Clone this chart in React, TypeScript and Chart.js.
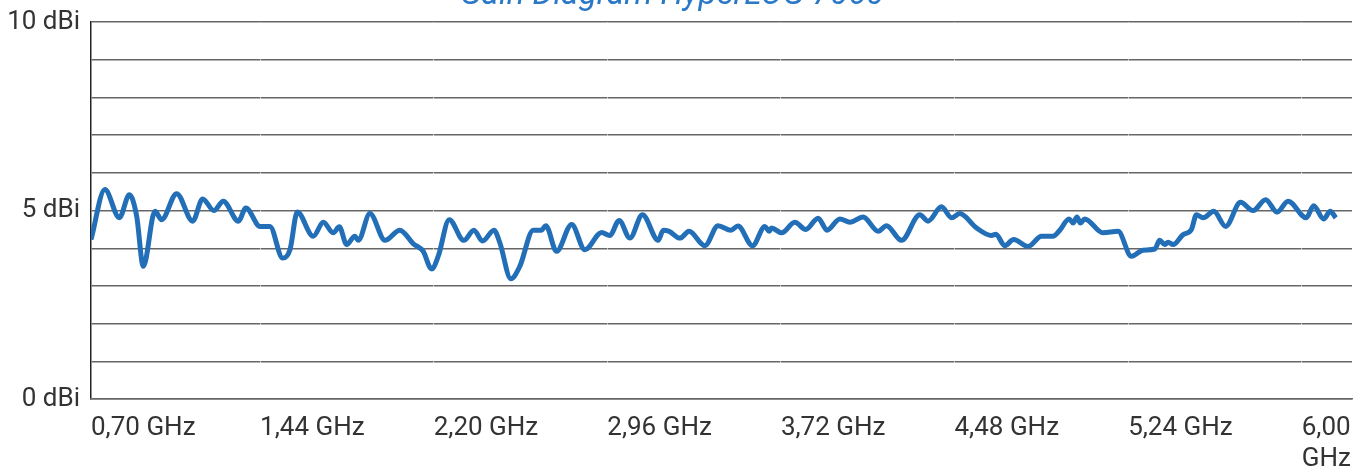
import React, { useEffect, useRef } from "react";
import { Chart, registerables } from "chart.js";

Chart.register(...registerables);

const TITLE = "Gain Diagram HyperLOG 7060";

const FREQ_GHZ = [
  0.700, 0.761, 0.824, 0.868, 0.900, 0.929, 0.980, 1.009, 1.075, 1.145,
  1.189, 1.238, 1.279, 1.345, 1.378, 1.440, 1.483, 1.539, 1.571, 1.603,
  1.673, 1.717, 1.760, 1.787, 1.819, 1.855, 1.870, 1.921, 1.987, 2.052,
  2.111, 2.154, 2.191, 2.220, 2.268, 2.332, 2.376, 2.414, 2.464, 2.490,
  2.538, 2.577, 2.636, 2.672, 2.691, 2.738, 2.804, 2.862, 2.935, 2.971,
  3.012, 3.059, 3.114, 3.183, 3.205, 3.231, 3.278, 3.318, 3.387, 3.445,
  3.501, 3.532, 3.596, 3.650, 3.669, 3.679, 3.723, 3.781, 3.829, 3.883,
  3.922, 3.978, 4.022, 4.080, 4.146, 4.182, 4.248, 4.328, 4.364, 4.423,
  4.467, 4.503, 4.576, 4.642, 4.661, 4.700, 4.739, 4.802, 4.861, 4.911,
  4.941, 4.981, 4.999, 5.016, 5.031, 5.050, 5.130, 5.196, 5.254, 5.305,
  5.357, 5.378, 5.400, 5.415, 5.437, 5.480, 5.517, 5.539, 5.568, 5.615,
  5.667, 5.732, 5.787, 5.842, 5.892, 5.940, 6.020, 6.052, 6.096, 6.125,
  6.149,
];

const GAIN_DBI = [
  4.23, 5.56, 4.81, 5.42, 4.85, 3.52, 4.98, 4.76, 5.45, 4.72,
  5.31, 5.00, 5.25, 4.72, 5.07, 4.58, 4.58, 3.74, 3.96, 4.96,
  4.32, 4.69, 4.41, 4.57, 4.10, 4.32, 4.21, 4.92, 4.21, 4.48,
  4.12, 3.92, 3.45, 3.79, 4.76, 4.21, 4.48, 4.19, 4.48, 4.14,
  3.19, 3.52, 4.48, 4.48, 4.60, 3.92, 4.63, 3.96, 4.42, 4.34,
  4.74, 4.27, 4.89, 4.21, 4.48, 4.45, 4.27, 4.45, 4.07, 4.60,
  4.48, 4.59, 4.07, 4.58, 4.45, 4.54, 4.41, 4.69, 4.50, 4.80,
  4.48, 4.78, 4.69, 4.83, 4.45, 4.60, 4.21, 4.89, 4.72, 5.10,
  4.81, 4.92, 4.54, 4.34, 4.37, 4.07, 4.23, 4.05, 4.32, 4.32,
  4.48, 4.78, 4.67, 4.83, 4.67, 4.78, 4.41, 4.45, 3.79, 3.95,
  3.98, 4.21, 4.10, 4.16, 4.10, 4.36, 4.50, 4.89, 4.81, 4.98,
  4.58, 5.22, 5.00, 5.29, 4.96, 5.25, 4.81, 5.13, 4.78, 4.98,
  4.81,
];

const X_TICK_VALUES = [0.70, 1.44, 2.20, 2.96, 3.72, 4.48, 5.24, 6.00];
const X_TICK_LABELS: (string | string[])[] = [
  "0,70 GHz", "1,44 GHz", "2,20 GHz", "2,96 GHz",
  "3,72 GHz", "4,48 GHz", "5,24 GHz", ["6,00", "GHz"],
];
const Y_LABEL_VALUES = [0, 5, 10];
const Y_LABEL_TEXTS = ["0 dBi", "5 dBi", "10 dBi"];

export default function App() {
  const canvasRef = useRef<HTMLCanvasElement | null>(null);

  useEffect(() => {
    const canvas = canvasRef.current;
    if (!canvas) return;
    const points = FREQ_GHZ.map((f, i) => ({ x: f, y: GAIN_DBI[i] }));
    const chart = new Chart(canvas, {
      type: "line",
      data: {
        datasets: [
          {
            data: points,
            borderColor: "#226fb8",
            borderWidth: 5,
            pointRadius: 0,
            cubicInterpolationMode: "monotone",
            fill: false,
          },
        ],
      },
      options: {
        animation: false,
        responsive: false,
        devicePixelRatio: 1,
        layout: { padding: { left: 0, right: 19, top: 0, bottom: 0 } },
        plugins: {
          legend: { display: false },
          tooltip: { enabled: false },
          title: {
            display: true,
            text: TITLE,
            color: "#2a78c6",
            font: { family: "Roboto", size: 33, style: "italic", weight: "normal" },
            padding: { top: 0, bottom: 6.6 },
          },
        },
        scales: {
          y: {
            type: "linear",
            min: 0,
            max: 10,
            afterFit: (scale: any) => {
              scale.width = 99;
            },
            ticks: {
              stepSize: 1,
              padding: 11,
              color: "#333",
              font: { family: "Roboto", size: 26 },
              callback: (value: any) => {
                const idx = Y_LABEL_VALUES.indexOf(Number(value));
                return idx >= 0 ? Y_LABEL_TEXTS[idx] : "";
              },
            },
            grid: { color: "#666", lineWidth: 1.5, drawTicks: false },
            border: { display: true, color: "#222", width: 1.5 },
          },
          x: {
            type: "linear",
            min: 0.70,
            max: 6.22,
            afterBuildTicks: (scale: any) => {
              scale.ticks = X_TICK_VALUES.map((v) => ({ value: v }));
            },
            afterFit: (scale: any) => {
              scale.height = 74;
            },
            ticks: {
              align: "start",
              autoSkip: false,
              maxRotation: 0,
              minRotation: 0,
              padding: 14,
              color: "#333",
              font: { family: "Roboto", size: 26 },
              callback: (_value: any, index: number) => X_TICK_LABELS[index],
            },
            grid: { color: "rgba(255,255,255,0.55)", lineWidth: 1, drawTicks: false, z: -0.5 },
            border: { display: true, color: "#666", width: 1.5 },
          },
        },
      },
    });
    return () => chart.destroy();
  }, []);

  return (
    <div style={{ position: "fixed", left: -8, top: -24, width: 1379, height: 497 }}>
      <canvas ref={canvasRef} width={1379} height={497} />
    </div>
  );
}
